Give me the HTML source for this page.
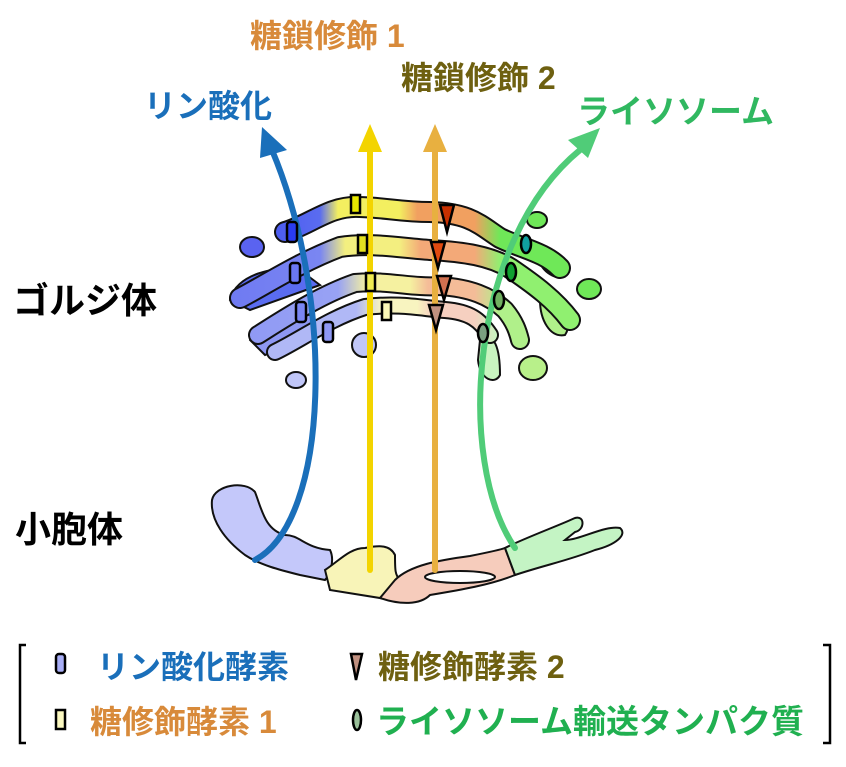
<!DOCTYPE html>
<html><head><meta charset="utf-8"><style>
html,body{margin:0;padding:0;background:#fff}
svg text{font-family:"Liberation Sans","Noto Sans CJK JP",sans-serif;font-weight:bold}
</style></head><body>
<svg width="846" height="762" viewBox="0 0 846 762" xmlns="http://www.w3.org/2000/svg">
<defs>
<linearGradient id="g1" gradientUnits="userSpaceOnUse" x1="230" y1="0" x2="590" y2="0">
<stop offset="0" stop-color="#3f4cf0"/><stop offset="0.25" stop-color="#5a6cf0"/><stop offset="0.3" stop-color="#f3ef60"/><stop offset="0.47" stop-color="#f3ef60"/><stop offset="0.52" stop-color="#f1a060"/><stop offset="0.68" stop-color="#f1a060"/><stop offset="0.75" stop-color="#6fe858"/><stop offset="1" stop-color="#6fe858"/></linearGradient>
<linearGradient id="g2" gradientUnits="userSpaceOnUse" x1="230" y1="0" x2="590" y2="0">
<stop offset="0" stop-color="#6f7af2"/><stop offset="0.25" stop-color="#7a86f2"/><stop offset="0.32" stop-color="#f3ef80"/><stop offset="0.47" stop-color="#f3ef80"/><stop offset="0.53" stop-color="#f3a978"/><stop offset="0.68" stop-color="#f3a978"/><stop offset="0.75" stop-color="#90f070"/><stop offset="1" stop-color="#90f070"/></linearGradient>
<linearGradient id="g3" gradientUnits="userSpaceOnUse" x1="230" y1="0" x2="590" y2="0">
<stop offset="0" stop-color="#8e98f4"/><stop offset="0.3" stop-color="#98a2f4"/><stop offset="0.38" stop-color="#f5f1a0"/><stop offset="0.5" stop-color="#f5f1a0"/><stop offset="0.55" stop-color="#f4bc98"/><stop offset="0.68" stop-color="#f4bc98"/><stop offset="0.75" stop-color="#b0f08a"/><stop offset="1" stop-color="#b0f08a"/></linearGradient>
<linearGradient id="g4" gradientUnits="userSpaceOnUse" x1="230" y1="0" x2="590" y2="0">
<stop offset="0" stop-color="#b0b8f6"/><stop offset="0.35" stop-color="#b0b8f6"/><stop offset="0.42" stop-color="#f8f4c0"/><stop offset="0.52" stop-color="#f8f4c0"/><stop offset="0.56" stop-color="#f6d0c0"/><stop offset="0.68" stop-color="#f6d0c0"/><stop offset="0.74" stop-color="#c8f4c0"/><stop offset="1" stop-color="#c8f4c0"/></linearGradient>
</defs>

<!-- golgi blobs -->
<g stroke="#111" stroke-width="2">
<ellipse cx="252" cy="247" rx="12" ry="10" fill="#5a63f0"/>
<ellipse cx="296" cy="380" rx="10" ry="8" fill="#c0c6f8"/>
<ellipse cx="537" cy="220" rx="10" ry="8" fill="#6fe858"/>
<ellipse cx="589" cy="289" rx="12" ry="10" fill="#6fe858"/>
<ellipse cx="533" cy="368" rx="14" ry="12" fill="#b8f08a"/>
<ellipse cx="364" cy="345" rx="12" ry="12" fill="#c0c6f8"/>
<path d="M230,300 C235,275 275,265 300,270 L320,285 L250,310 Z" fill="#5a6cf0"/>
<path d="M250,340 C255,320 290,310 310,315 L320,330 L265,355 Z" fill="#8e98f4"/>
<path d="M480,340 C495,330 500,350 500,375 C495,385 480,380 478,360 Z" fill="#c8f4c0"/>
<path d="M540,300 C560,300 575,320 565,335 C550,338 540,320 540,300 Z" fill="#b0f08a"/>
<path d="M540,250 C565,255 575,270 560,278 C545,275 535,262 540,250 Z" fill="#6fe858"/>
</g>
<!-- cisternae -->
<g fill="none" stroke-linecap="round" stroke-linejoin="round">
<path d="M285,232 C310,225 330,205 360,207 C390,208 400,212 430,212 C470,213 480,225 500,238 C520,248 545,252 560,268" stroke="#111" stroke-width="22"/>
<path d="M285,232 C310,225 330,205 360,207 C390,208 400,212 430,212 C470,213 480,225 500,238 C520,248 545,252 560,268" stroke="url(#g1)" stroke-width="18"/>
<path d="M240,298 C265,285 300,262 340,247 C370,242 400,248 430,250 C465,252 490,256 510,268 C535,285 555,300 570,320" stroke="#111" stroke-width="22"/>
<path d="M240,298 C265,285 300,262 340,247 C370,242 400,248 430,250 C465,252 490,256 510,268 C535,285 555,300 570,320" stroke="url(#g2)" stroke-width="18"/>
<path d="M258,335 C285,318 320,295 355,283 C390,280 410,288 440,286 C470,288 490,296 505,310 C515,322 518,332 520,340" stroke="#111" stroke-width="20"/>
<path d="M258,335 C285,318 320,295 355,283 C390,280 410,288 440,286 C470,288 490,296 505,310 C515,322 518,332 520,340" stroke="url(#g3)" stroke-width="16"/>
<path d="M275,352 C300,340 330,318 365,307 C400,303 420,308 445,310 C470,312 480,320 490,335" stroke="#111" stroke-width="18"/>
<path d="M275,352 C300,340 330,318 365,307 C400,303 420,308 445,310 C470,312 480,320 490,335" stroke="url(#g4)" stroke-width="14"/>
</g>

<!-- ER -->
<g stroke="#111" stroke-width="2">
<path d="M212,500 C215,485 245,480 255,492 C262,510 265,530 285,535 C300,535 305,548 330,550 C335,560 330,575 325,580 L300,575 C280,570 260,565 245,555 C225,540 210,520 212,500 Z" fill="#c4c8fa"/>
<path d="M325,570 C340,560 350,548 365,548 C380,545 390,545 395,555 C395,570 395,575 400,580 L380,598 L330,590 Z" fill="#f8f4b8"/>
<path d="M395,580 C410,565 440,560 470,556 C490,552 500,550 505,548 L515,575 C490,585 460,590 430,595 C420,605 400,605 380,598 Z" fill="#f6ccbc"/>
<path d="M505,548 C520,540 560,525 575,518 C585,515 585,530 575,532 L565,540 C580,540 605,525 620,528 C628,535 615,545 595,550 C570,560 545,565 515,575 Z" fill="#c4f4c4"/>
<ellipse cx="460" cy="577" rx="35" ry="6" fill="#fff"/>
</g>

<!-- arrows -->
<g fill="none" stroke-width="6" stroke-linecap="round">
<path d="M255,560 C330,520 335,300 272,150" stroke="#1a6fba"/>
<path d="M370,570 L370,150" stroke="#f3d400"/>
<path d="M435,570 L435,150" stroke="#e8b040"/>
<path d="M515,548 C455,460 470,240 580,150" stroke="#50cc78"/>
</g>
<polygon points="262,127 287,150 260,158" fill="#1a6fba"/>
<polygon points="370,124 382,152 358,152" fill="#f3d400"/>
<polygon points="435,124 447,152 423,152" fill="#e8b040"/>
<polygon points="600,128 588,158 568,140" fill="#50cc78"/>

<!-- enzymes -->
<g stroke="#000" stroke-width="2.5">
<rect x="287" y="222" width="10" height="20" rx="3" fill="#2a3cf0"/>
<rect x="290" y="263" width="10" height="20" rx="3" fill="#6a78f4"/>
<rect x="296" y="302" width="10" height="20" rx="3" fill="#7a86f4"/>
<rect x="323" y="322" width="10" height="20" rx="3" fill="#8e98f4"/>
<rect x="351" y="195" width="9" height="18" fill="#e8e800"/>
<rect x="358" y="235" width="9" height="18" fill="#e2e020"/>
<rect x="366" y="273" width="9" height="18" fill="#f0ec50"/>
<rect x="382" y="302" width="9" height="18" fill="#fbf8b8"/>
<polygon points="440,205 454,205 447,232" fill="#c83000"/>
<polygon points="431,242 445,242 438,268" fill="#e04a10"/>
<polygon points="437,276 451,276 444,300" fill="#d07050"/>
<polygon points="429,305 443,305 436,330" fill="#c09080"/>
<ellipse cx="526" cy="244" rx="5" ry="9" fill="#10a0a0"/>
<ellipse cx="511" cy="272" rx="5" ry="9" fill="#10a030"/>
<ellipse cx="499" cy="300" rx="5" ry="9" fill="#70b060"/>
<ellipse cx="483" cy="333" rx="5" ry="9" fill="#7aa080"/>
</g>

<!-- labels -->
<text x="250" y="47" font-size="32" fill="#d88a3a">糖鎖修飾 1</text>
<text x="401" y="89" font-size="32" fill="#6e6010">糖鎖修飾 2</text>
<text x="144" y="117" font-size="32" fill="#1a6fba">リン酸化</text>
<text x="577" y="123" font-size="33" fill="#30b860">ライソソーム</text>
<text x="13" y="313" font-size="36" fill="#000">ゴルジ体</text>
<text x="15" y="542" font-size="36" fill="#000">小胞体</text>

<!-- legend -->
<path d="M26,645 L20,645 L20,743 L26,743" fill="none" stroke="#000" stroke-width="2.5"/>
<path d="M823,645 L830,645 L830,743 L823,743" fill="none" stroke="#000" stroke-width="2.5"/>
<g stroke="#000" stroke-width="2.5">
<rect x="56" y="654" width="9" height="19" rx="3" fill="#a8aef6"/>
<rect x="56" y="710" width="9" height="19" fill="#fbf8c0"/>
<polygon points="351,654 362,654 356,680" fill="#c09080"/>
<ellipse cx="357" cy="720" rx="4" ry="10" fill="#9ac09a"/>
</g>
<text x="97" y="678" font-size="32" fill="#1a6fba">リン酸化酵素</text>
<text x="90" y="733" font-size="32" fill="#d88a3a">糖修飾酵素 1</text>
<text x="378" y="678" font-size="32" fill="#6e6010">糖修飾酵素 2</text>
<text x="376" y="733" font-size="33" fill="#20b050">ライソソーム輸送タンパク質</text>
</svg>
</body></html>
